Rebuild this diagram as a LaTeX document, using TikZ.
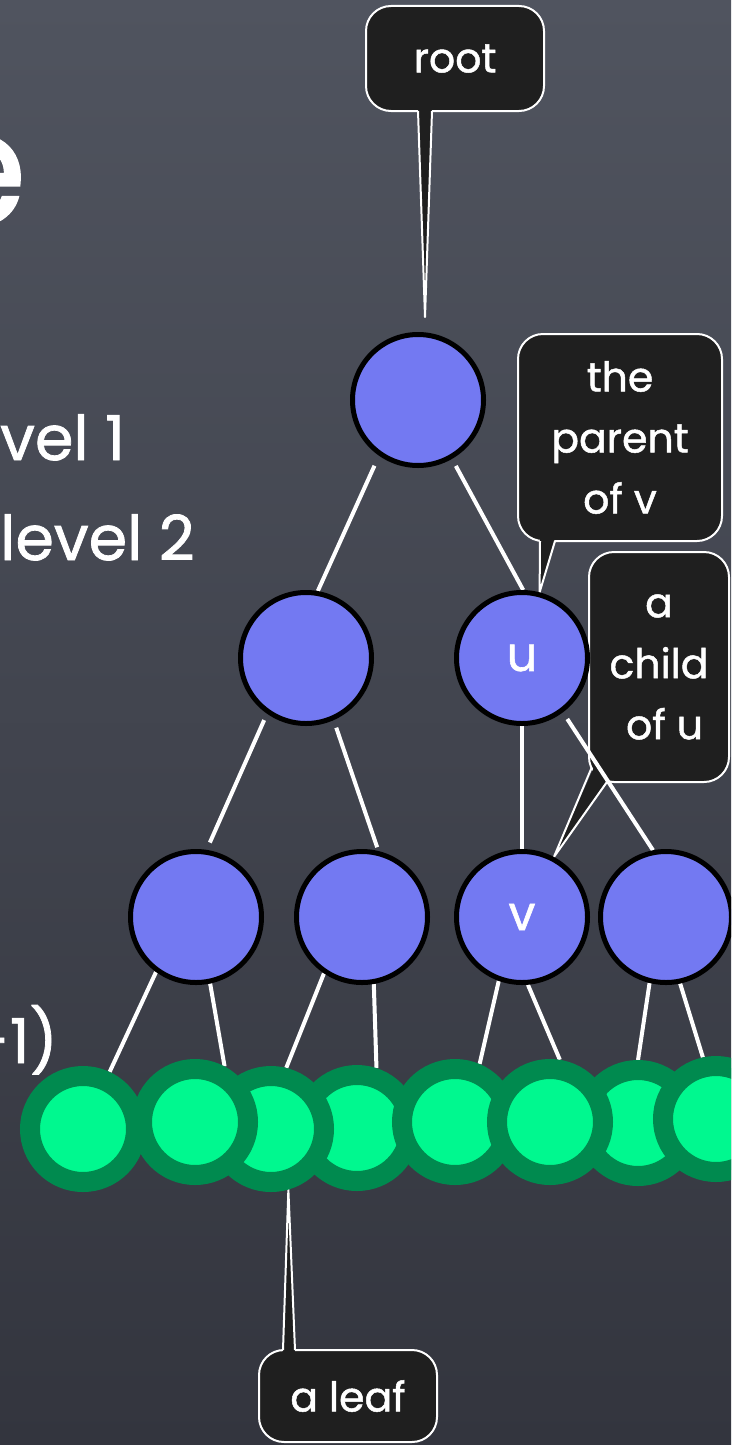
\documentclass[tikz,border=0pt]{standalone}
\usepackage{fontspec}
\setmainfont{Poppins}[FakeBold=1.2]
\usetikzlibrary{calc}
\definecolor{bgtop}{HTML}{50545F}
\definecolor{bgbot}{HTML}{33353E}
\definecolor{nodeblue}{HTML}{7379F2}
\definecolor{leafin}{HTML}{00F88F}
\definecolor{leafring}{HTML}{008A4F}
\definecolor{boxfill}{HTML}{1F1F1F}
\pgfdeclarelayer{bglayer}
\pgfdeclarelayer{calllayer}
\pgfdeclarelayer{edgelayer}
\pgfsetlayers{bglayer,calllayer,edgelayer,main}
\begin{document}
\begin{tikzpicture}[x=1pt,y=-1pt,
  tnode/.style={circle, draw=black, line width=5pt, fill=nodeblue, minimum size=131pt, inner sep=0pt, text=white, font=\fontsize{48}{50}\selectfont},
  leaf/.style={circle, draw=leafring, line width=20pt, fill=leafin, minimum size=106pt, inner sep=0pt},
  edge/.style={white, line width=4pt},
  callbox/.style={rectangle, rounded corners=25pt, draw=white, line width=2pt, fill=boxfill, text=white, align=center, inner sep=0pt, outer sep=0pt, font=\fontsize{41}{61}\selectfont},
  wedgefill/.style={fill=boxfill},
  wedgeline/.style={draw=white, line width=2pt, line join=round},
  sidetext/.style={text=white, inner sep=0pt, font=\fontsize{62}{66}\selectfont}
]
\clip (0,0) rectangle (731,1445);
\begin{pgfonlayer}{bglayer}
\shade[top color=bgtop, bottom color=bgbot] (0,0) rectangle (731,1445);
\end{pgfonlayer}

% side texts
\node[sidetext, anchor=base east] (etitle) at (27,224) {\fontsize{160}{160}\selectfont e};
\node[sidetext, anchor=base west] (lv1) at (0,460) {vel 1};
\node[sidetext, anchor=base west] (lv2) at (0,560) {level 2};
\node[sidetext, anchor=base east] (lvh) at (58,1063) {-1)};

% tree nodes
\node[tnode] (root) at (418,400) {};
\node[tnode] (a) at (306,658) {};
\node[tnode] (u) at (522,658) {u};
\node[tnode] (b1) at (196,917) {};
\node[tnode] (b2) at (362,917) {};
\node[tnode] (v) at (522,917) {v};
\node[tnode] (b4) at (666,917) {};

% leaves (drawing order gives the overlaps)
\node[leaf] (l4) at (357,1128) {};
\node[leaf] (l3) at (271,1129) {};
\node[leaf] (l2) at (195,1122) {};
\node[leaf] (l1) at (83,1129) {};
\node[leaf] (l5) at (455,1122) {};
\node[leaf] (l7) at (638,1123) {};
\node[leaf] (l6) at (550,1122) {};
\node[leaf] (l8) at (716,1119) {};

% edges
\begin{pgfonlayer}{edgelayer}
\draw[edge, shorten <=11pt] (root.235) -- (a.80);
\draw[edge, shorten <=8pt] (root.300) -- (u.89);
\draw[edge, shorten <=7pt, shorten >=8pt] (a.235) -- (b1.81);
\draw[edge, shorten <=8pt, shorten >=4pt] (a.294) -- (b2.76);
\draw[edge] (u.270) -- (v.90);
\draw[edge, shorten <=8pt] (u.307) -- (b4.101);
\draw[edge] (b1.234) -- (l1.65);
\draw[edge] (b1.282) -- (l2.62);
\draw[edge] (b2.236) -- (l3.76);
\draw[edge] (b2.280) -- (l4.72);
\draw[edge] (v.250) -- (l5.67);
\draw[edge] (v.275) -- (l6.81);
\draw[edge] (b4.256) -- (l7.90);
\draw[edge] (b4.282) -- (l8.102);
\end{pgfonlayer}

% callouts
\begin{pgfonlayer}{calllayer}
% root
\node[callbox, minimum width=178pt, minimum height=105pt] (rootbox) at (455,58.5) {root};
\coordinate (rt) at ($(root.north)+(7,-15)$);
\fill[wedgefill] ($(rootbox.south)+(-37,-3)$) -- (rt) -- ($(rootbox.south)+(-23,-3)$) -- cycle;
\draw[wedgeline] ($(rootbox.south)+(-37,0)$) -- (rt) -- ($(rootbox.south)+(-23,0)$);
% parent of v
\node[callbox, minimum width=204pt, minimum height=207pt] (parbox) at (620,437.5) {the\\parent\\of v};
\fill[wedgefill] ($(parbox.south)+(-80,-3)$) -- (u.75) -- ($(parbox.south)+(-65,-3)$) -- cycle;
\draw[wedgeline] ($(parbox.south)+(-80,0)$) -- (u.75) -- ($(parbox.south)+(-65,0)$);
% child of u
\node[callbox, minimum width=140pt, minimum height=230pt] (chbox) at (659,667) {a\\child\\\ of u};
\fill[wedgefill] ($(chbox.south west)+(5.2,-15.2)$) -- (v.62) -- ($(chbox.south west)+(19.3,-3.7)$) -- cycle;
\draw[wedgeline] ($(chbox.south west)+(2.5,-14)$) -- (v.62) -- ($(chbox.south west)+(18.5,-0.8)$);
% a leaf
\node[callbox, minimum width=178pt, minimum height=92pt] (leafbox) at (348,1396) {a leaf};
\fill[wedgefill] ($(leafbox.north)+(-65,3)$) -- (l3.286) -- ($(leafbox.north)+(-53,3)$) -- cycle;
\draw[wedgeline] ($(leafbox.north)+(-65,0)$) -- (l3.286) -- ($(leafbox.north)+(-53,0)$);
\end{pgfonlayer}
\end{tikzpicture}
\end{document}
